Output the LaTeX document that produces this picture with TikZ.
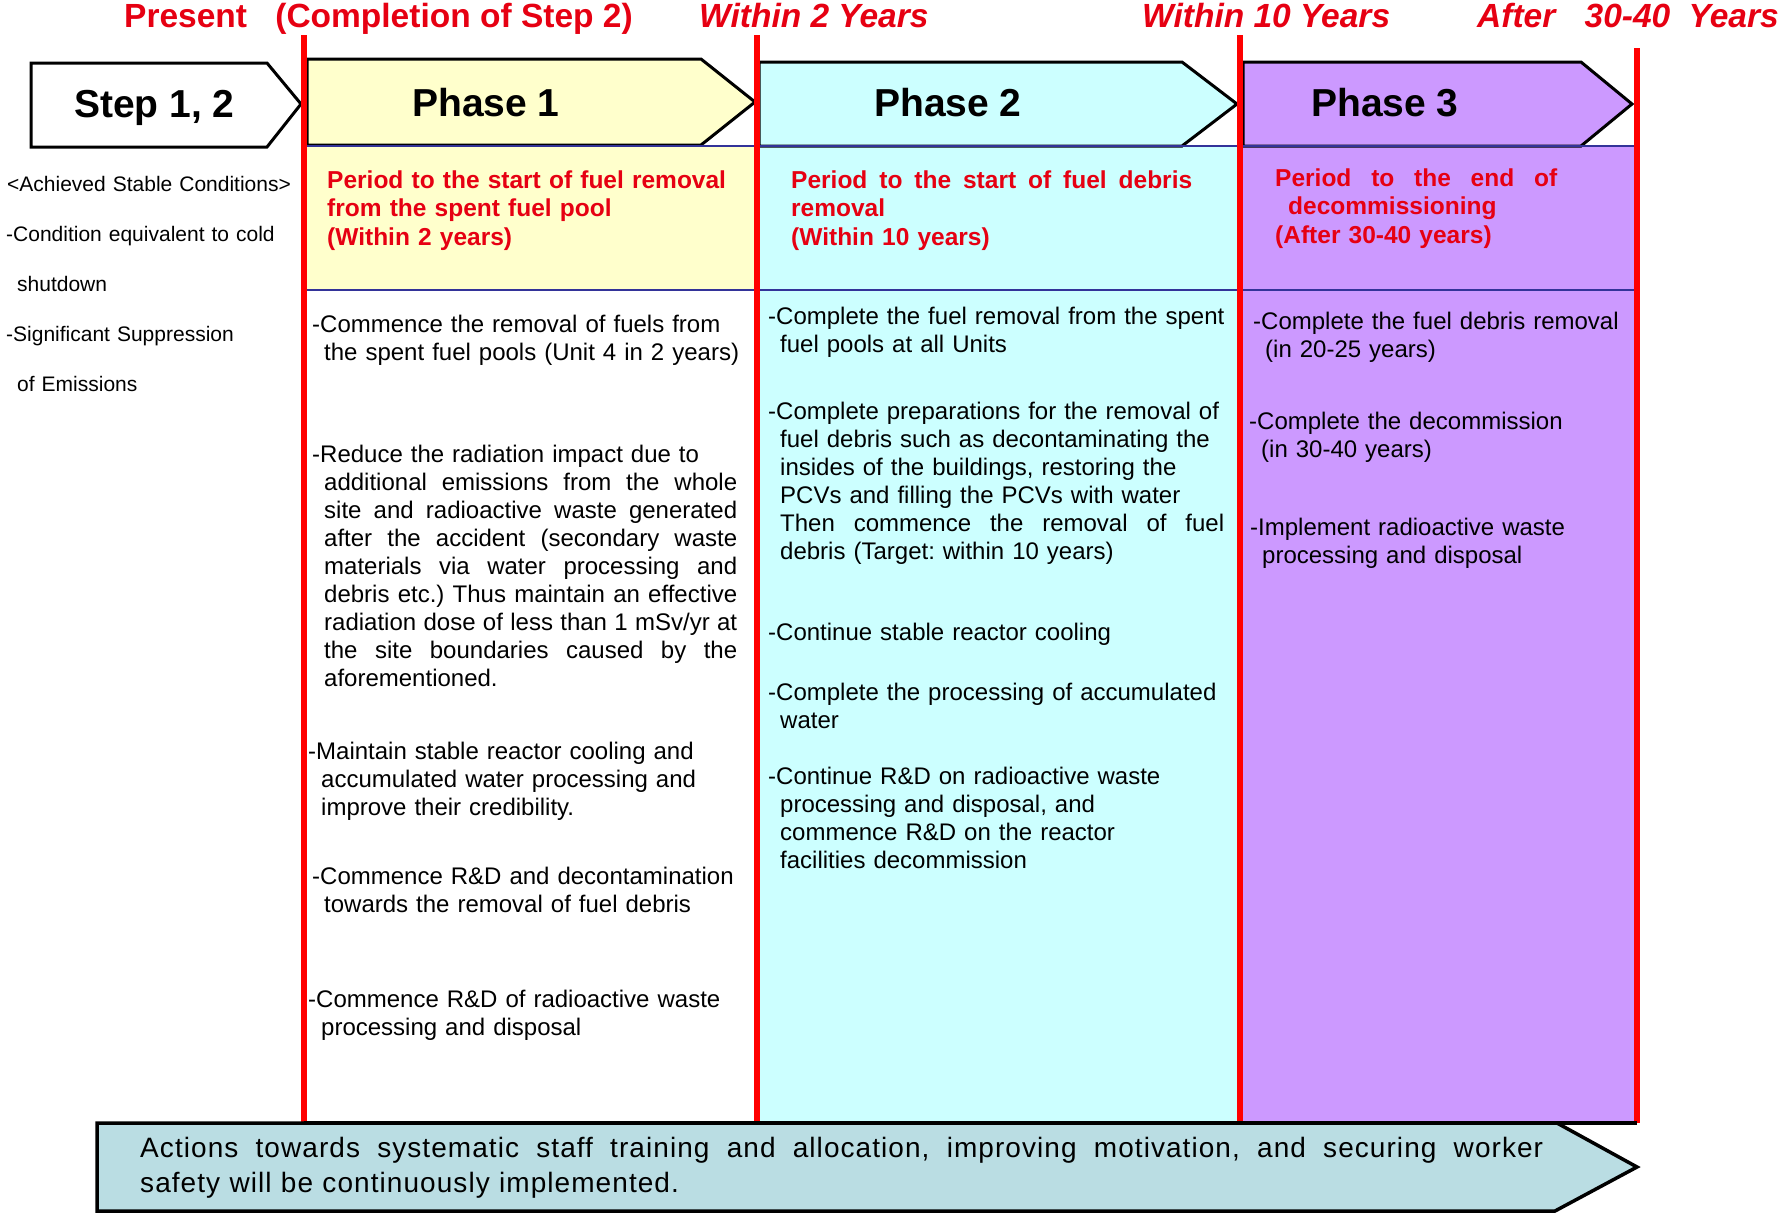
\documentclass[tikz,border=0pt]{standalone}
\usepackage{fontspec}
\setmainfont{Liberation Sans}
\newfontfamily\trackedfont[LetterSpace=3.8]{Liberation Sans}

\definecolor{markred}{RGB}{230,0,18}
\definecolor{lineRed}{RGB}{255,0,0}
\definecolor{phaseYellow}{RGB}{255,255,204}
\definecolor{phaseCyan}{RGB}{204,255,255}
\definecolor{phasePurple}{RGB}{204,153,255}
\definecolor{ruleNavy}{RGB}{51,51,153}
\definecolor{staffBlue}{RGB}{186,221,227}

% font size and line pitch in bp
\newcommand{\sz}[2]{\fontsize{#1bp}{#2bp}\selectfont}
% hanging continuation line
\newcommand{\contline}{\hspace*{12bp}}
% a line whose word spaces are spread to a fixed width
\newcommand{\spreadline}[2]{\leavevmode\hbox to #1bp{\spaceskip=\fontdimen2\font plus 1fil\relax #2}}
% hanging continuation line spread to a fixed width
\newcommand{\fullline}[2]{\hspace*{12bp}\spreadline{#1}{#2}}

\tikzset{
  timeline/.style={draw=lineRed, line width=5.5bp},
  stagebox/.style={draw=black, line width=3bp, line join=miter},
  navyrule/.style={draw=ruleNavy, line width=2.5bp},
  milestone/.style={inner sep=0pt, anchor=base west, text=markred,
    font=\sz{33.5}{36}\bfseries\itshape},
  stagelabel/.style={inner sep=0pt, anchor=base west, font=\sz{39}{44}\bfseries},
  period/.style={inner sep=0pt, anchor=base west, text width=460bp, align=left,
    text=markred, font=\sz{24.5}{28.5}\bfseries},
  task/.style={inner sep=0pt, anchor=base west, text width=480bp, align=left,
    font=\sz{24}{28.1}},
  status/.style={inner sep=0pt, anchor=base west, text width=300bp, align=left,
    font=\sz{21}{50}},
}

\begin{document}
\frenchspacing
\begin{tikzpicture}[x=1bp, y=-1bp]
\useasboundingbox (0,0) rectangle (1785,1213);

% column backgrounds
\fill[phaseYellow] (304,146) rectangle (757,290);
\fill[phaseCyan] (757,146) rectangle (1240,1123);
\fill[phasePurple] (1240,146) rectangle (1637,1123);

% stage arrows
\draw[stagebox, fill=white] (31,63) -- (267,63) -- (301,104) -- (267,147) -- (31,147) -- cycle;
\draw[stagebox, fill=phaseYellow] (307,59) -- (701,59) -- (755,102) -- (701,145) -- (307,145) -- cycle;
\draw[stagebox, fill=phaseCyan] (759,62) -- (1182,62) -- (1237,104) -- (1182,146) -- (759,146) -- cycle;
\draw[stagebox, fill=phasePurple] (1243,62) -- (1581,62) -- (1632,104) -- (1581,146) -- (1243,146) -- cycle;

% header rules
\draw[navyrule] (304,146) -- (1637,146);
\draw[navyrule] (304,290) -- (1637,290);

% milestone lines
\draw[timeline] (304,35) -- (304,1123);
\draw[timeline] (757,35) -- (757,1123);
\draw[timeline] (1240,35) -- (1240,1123);
\draw[timeline] (1637,48) -- (1637,1123);

% staff arrow along the bottom
\draw[stagebox, line width=3.5bp, fill=staffBlue]
  (97,1123) -- (1557,1123) -- (1637,1167) -- (1555,1211) -- (97,1211) -- cycle;
\draw[black, line width=3.5bp] (304,1123) -- (1637,1123);

% milestones
\node[milestone, font=\sz{33.5}{36}\bfseries] (present) at (124,27)
  {Present\hspace{19bp} (Completion of Step 2)};
\node[milestone] (two) at (699,27) {Within 2 Years};
\node[milestone] (ten) at (1142,27) {Within 10 Years};
\node[milestone] (after) at (1477,27) {After\hspace{20bp} 30-40\hspace{9bp} Years};

% stage labels
\node[stagelabel] (step) at (74,117) {Step 1, 2};
\node[stagelabel] (ph1) at (412,116) {Phase 1};
\node[stagelabel] (ph2) at (874,116) {Phase 2};
\node[stagelabel] (ph3) at (1311,116) {Phase 3};

% achieved conditions
\node[status] (cond) at (6,191)
  {\hspace*{1bp}<Achieved Stable Conditions>\\
   -Condition equivalent to cold\\
   \hspace*{11bp}shutdown\\
   -Significant Suppression\\
   \hspace*{11bp}of Emissions};

% period headings
\node[period] (per1) at (327,188)
  {Period to the start of fuel removal\\
   from the spent fuel pool\\
   (Within 2 years)};
\node[period] (per2) at (791,188)
  {\spreadline{401}{Period to the start of fuel debris}\\
   removal\\
   (Within 10 years)};
\node[period] (per3) at (1275,186)
  {\spreadline{282}{Period to the end of}\\
   \hspace*{13bp}decommissioning\\
   (After 30-40 years)};

% phase 1 tasks
\node[task] (p1a) at (312,332)
  {-Commence the removal of fuels from\\
   \contline the spent fuel pools (Unit 4 in 2 years)};
\node[task] (p1b) at (312,462)
  {-Reduce the radiation impact due to\\
   \fullline{413}{additional emissions from the whole}\\
   \fullline{413}{site and radioactive waste generated}\\
   \fullline{413}{after the accident (secondary waste}\\
   \fullline{413}{materials via water processing and}\\
   \fullline{413}{debris etc.) Thus maintain an effective}\\
   \fullline{413}{radiation dose of less than 1 mSv/yr at}\\
   \fullline{413}{the site boundaries caused by the}\\
   \contline aforementioned.};
\node[task] (p1c) at (308,759)
  {-Maintain stable reactor cooling and\\
   \hspace*{13bp}accumulated water processing and\\
   \hspace*{13bp}improve their credibility.};
\node[task] (p1d) at (312,884)
  {-Commence R\&D and decontamination\\
   \contline towards the removal of fuel debris};
\node[task] (p1e) at (308,1007)
  {-Commence R\&D of radioactive waste\\
   \hspace*{13bp}processing and disposal};

% phase 2 tasks
\node[task] (p2a) at (768,324)
  {-Complete the fuel removal from the spent\\
   \contline fuel pools at all Units};
\node[task] (p2b) at (768,419)
  {-Complete preparations for the removal of\\
   \contline fuel debris such as decontaminating the\\
   \contline insides of the buildings, restoring the\\
   \contline PCVs and filling the PCVs with water\\
   \fullline{444}{Then commence the removal of fuel}\\
   \contline debris (Target: within 10 years)};
\node[task] (p2c) at (768,640) {-Continue stable reactor cooling};
\node[task] (p2d) at (768,700)
  {-Complete the processing of accumulated\\
   \contline water};
\node[task] (p2e) at (768,784)
  {-Continue R\&D on radioactive waste\\
   \contline processing and disposal, and\\
   \contline commence R\&D on the reactor\\
   \contline facilities decommission};

% phase 3 tasks
\node[task] (p3a) at (1253,329)
  {-Complete the fuel debris removal\\
   \contline (in 20-25 years)};
\node[task] (p3b) at (1249,429)
  {-Complete the decommission\\
   \contline (in 30-40 years)};
\node[task] (p3c) at (1250,535)
  {-Implement radioactive waste\\
   \contline processing and disposal};

% staff note
\node[inner sep=0pt, anchor=base west, text width=1403bp, align=left,
      font=\trackedfont\sz{28}{35}] (staff) at (140,1157)
  {\spreadline{1403}{Actions towards systematic staff training and allocation, improving motivation, and securing worker}\\
   safety will be continuously implemented.};
\end{tikzpicture}
\end{document}
